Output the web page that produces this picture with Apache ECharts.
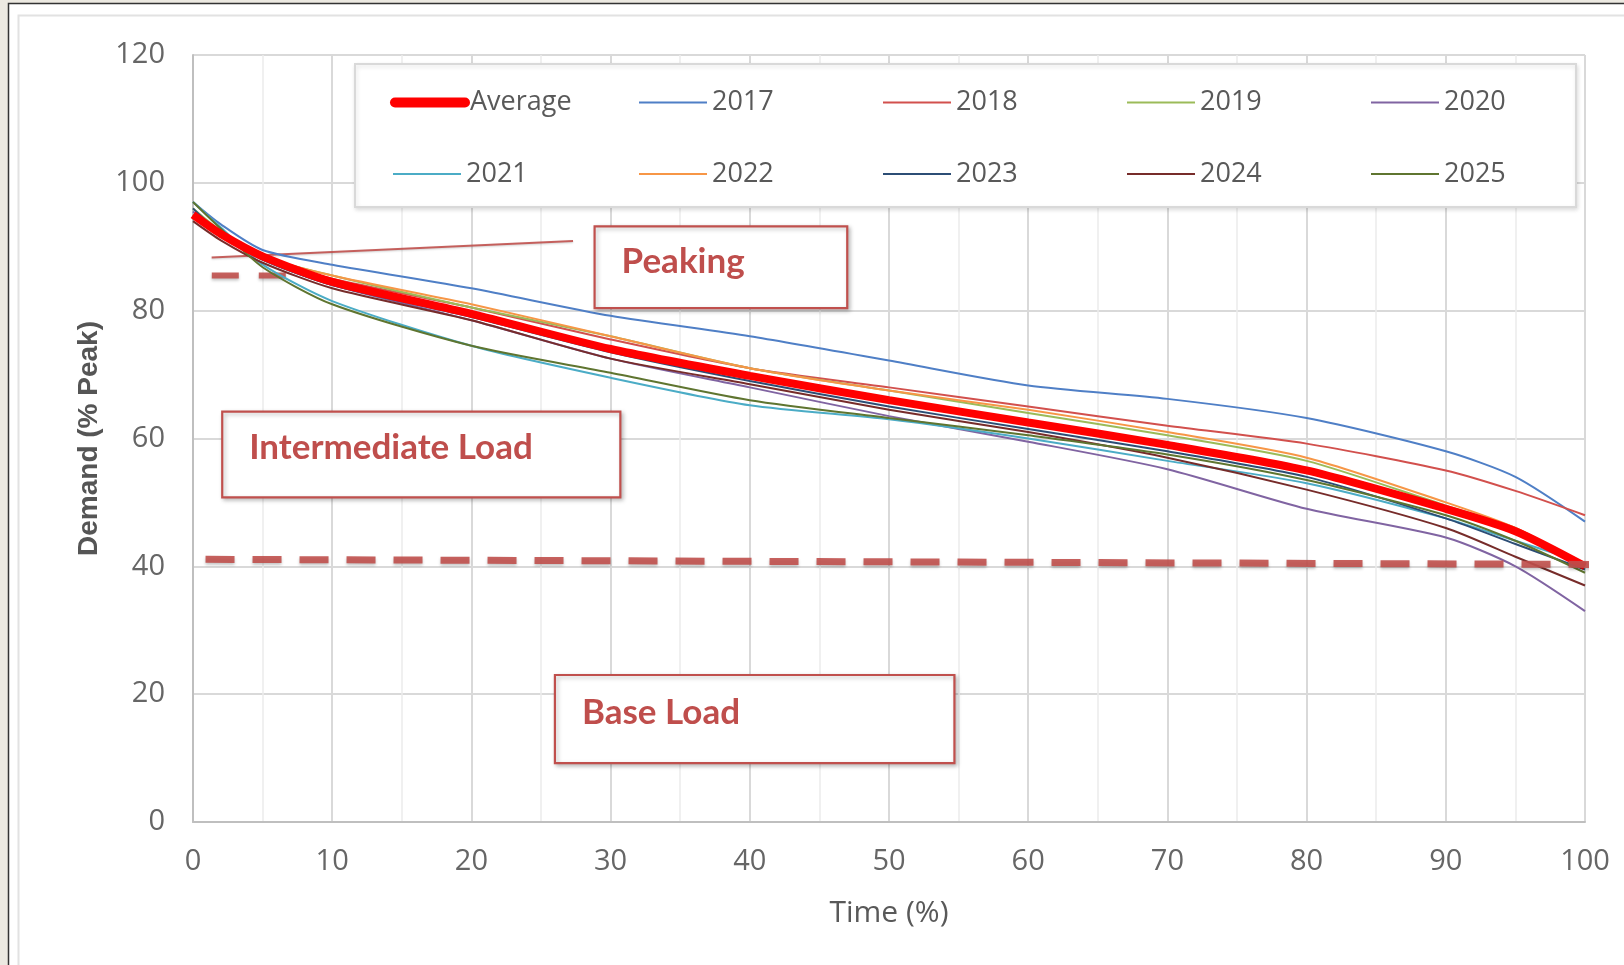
<!DOCTYPE html>
<html>
<head>
<meta charset="utf-8">
<script src="https://cdn.jsdelivr.net/npm/echarts@6/dist/echarts.min.js"></script>
<style>
html,body{margin:0;padding:0;background:#fff;}
#chart{width:1624px;height:965px;}
</style>
</head>
<body>
<div id="chart"></div>
<script>
// ---- data ----
const timePct = [0, 2, 5, 10, 20, 30, 40, 50, 60, 70, 80, 90, 95, 100];
const seriesNames = ['Average', '2017', '2018', '2019', '2020', '2021', '2022', '2023', '2024', '2025'];
const avgVals  = [95, 92, 88.5, 84.5, 79.5, 74, 69.8, 66, 62.5, 59, 55, 49, 45.5, 40];
const y2017 = [97, 93.5, 89.5, 87.2, 83.5, 79.2, 76, 72.2, 68.3, 66.2, 63.2, 58, 54, 47];
const y2018 = [95, 92, 88, 85, 80.5, 75.5, 71, 68, 65, 62, 59.2, 55, 51.8, 48];
const y2019 = [96, 92.5, 88.5, 85.5, 80.5, 76, 71, 67.5, 64, 60.5, 56.5, 49.5, 46, 40];
const y2020 = [95.5, 92, 88, 84, 78.5, 72.5, 68, 63.5, 59.5, 55.2, 49, 44.5, 40, 33];
const y2021 = [97, 93, 87.2, 81.5, 74.5, 69.5, 65.2, 63, 60, 56.5, 53, 47.5, 44, 40.5];
const y2022 = [95, 92, 88.5, 85.5, 81, 76, 71, 67.5, 64.5, 61, 57, 50, 46, 40];
const y2023 = [96, 92, 88, 84, 79, 73.5, 69, 65, 61.5, 58, 54, 47.5, 43.5, 39.5];
const y2024 = [94, 91, 87.5, 83.5, 78.5, 72.5, 68.5, 64.5, 61, 57, 52, 46, 41.5, 37];
const y2025 = [97, 92.8, 86.8, 81, 74.5, 70.3, 66, 63.2, 60.5, 57.5, 53.5, 48, 44, 39];
const allVals = [avgVals, y2017, y2018, y2019, y2020, y2021, y2022, y2023, y2024, y2025];
const colors = ['#FF0000', '#4F7FC6', '#D2504D', '#9BBB59', '#8064A2', '#4BACC6', '#F79646', '#2C4D75', '#772C2A', '#5F7530'];
const yTicks = [0, 20, 40, 60, 80, 100, 120];
const xTicks = [0, 10, 20, 30, 40, 50, 60, 70, 80, 90, 100];

// annotation lines (data coordinates)
const baseDashX = [0.9, 100.4];
const baseDashY = [41.1, 40.3];
const peakDashX = [1.35, 6.8];
const peakDashY = [85.5, 85.5];
const peakLeaderX = [1.34, 27.3];
const peakLeaderY = [88.3, 90.9];

// annotation boxes (data coordinates)
const boxLabels = ['Peaking', 'Intermediate Load', 'Base Load'];
const boxX0 = [28.85, 2.1, 26.0];
const boxX1 = [47.0, 30.7, 54.7];
const boxYTop = [93.2, 64.2, 23.0];
const boxYBot = [80.4, 50.8, 9.2];

const FONT = '"Open Sans", "Liberation Sans", sans-serif';
const chart = echarts.init(document.getElementById('chart'), null, {renderer: 'canvas'});

const lineSeries = seriesNames.map((name, i) => ({
  name: name,
  type: 'line',
  smooth: 0.25,
  symbol: 'none',
  z: i === 0 ? 3 : 2,
  lineStyle: {color: colors[i], width: i === 0 ? 8 : 2},
  itemStyle: {color: colors[i]},
  data: timePct.map((t, k) => [t, allVals[i][k]])
}));
const avgSeries = lineSeries.shift();
lineSeries.push(avgSeries);

const annotSeries = [
  {
    name: 'peakDash', type: 'line', symbol: 'none', silent: true, clip: false, z: 1,
    lineStyle: {color: '#C0504D', width: 6, type: [27, 20], opacity: 0.9,
      shadowColor: 'rgba(0,0,0,0.25)', shadowBlur: 3, shadowOffsetY: 2},
    data: peakDashX.map((x, k) => [x, peakDashY[k]])
  },
  {
    name: 'peakLeader', type: 'line', symbol: 'none', silent: true, clip: false, z: 1,
    lineStyle: {color: '#C0504D', width: 2, opacity: 0.9,
      shadowColor: 'rgba(0,0,0,0.2)', shadowBlur: 2, shadowOffsetY: 1},
    data: peakLeaderX.map((x, k) => [x, peakLeaderY[k]])
  },
  {
    name: 'baseDash', type: 'line', symbol: 'none', silent: true, clip: false, z: 4,
    lineStyle: {color: '#C0504D', width: 7, type: [29, 18], opacity: 0.9,
      shadowColor: 'rgba(0,0,0,0.25)', shadowBlur: 3, shadowOffsetY: 2},
    data: baseDashX.map((x, k) => [x, baseDashY[k]])
  }
];

// legends: 2 rows x 5 columns
const colLeft = [392, 638, 882, 1126, 1370];
const rowCenter = [102.5, 174];
const legends = seriesNames.map((name, i) => ({
  data: [name],
  left: colLeft[i % 5] + (i === 0 ? -2 : 0),
  top: rowCenter[Math.floor(i / 5)] - 15,
  padding: 0,
  itemWidth: i === 0 ? 70 : 68,
  itemHeight: 14,
  z: 20,
  selectedMode: false,
  itemStyle: {opacity: 0, borderWidth: 0},
  lineStyle: i === 0 ? {width: 10, cap: 'round'} : {width: 2},
  textStyle: {color: '#595959', fontSize: 27, fontFamily: FONT, lineHeight: 30}
}));

chart.setOption({
  backgroundColor: '#ffffff',
  animation: false,
  color: colors,
  legend: legends,
  grid: {left: 193, right: 39, top: 55, bottom: 143, containLabel: false},
  xAxis: {
    type: 'value', min: 0, max: 100, interval: 10,
    name: 'Time (%)', nameLocation: 'middle', nameGap: 76,
    nameTextStyle: {color: '#595959', fontSize: 30, fontFamily: FONT},
    axisLine: {show: true, lineStyle: {color: '#bfbfbf', width: 2}},
    axisTick: {show: false},
    axisLabel: {color: '#666', fontSize: 29, fontFamily: FONT, margin: 25,
      formatter: v => (xTicks.indexOf(v) >= 0 ? String(v) : '')},
    splitLine: {show: true, lineStyle: {color: '#d9d9d9', width: 2}},
    minorTick: {show: false, splitNumber: 2},
    minorSplitLine: {show: true, lineStyle: {color: '#ececec', width: 1.5}}
  },
  yAxis: {
    type: 'value', min: 0, max: 120, interval: 20,
    name: 'Demand (% Peak)', nameLocation: 'middle', nameGap: 90, nameRotate: 90,
    nameTextStyle: {color: '#555', fontSize: 28, fontWeight: 'bold', fontFamily: '"Liberation Sans", Arial, sans-serif'},
    axisLine: {show: true, lineStyle: {color: '#bfbfbf', width: 2}},
    axisTick: {show: false},
    axisLabel: {color: '#666', fontSize: 29, fontFamily: FONT, margin: 28,
      formatter: v => (yTicks.indexOf(v) >= 0 ? String(v) : '')},
    splitLine: {show: true, lineStyle: {color: '#d9d9d9', width: 2}}
  },
  series: annotSeries.slice(0, 2).concat(lineSeries, annotSeries.slice(2))
});

// graphics: frame, legend box, annotation boxes
const g = [];
g.push({type: 'rect', z: -10, silent: true, shape: {x: 0, y: 0, width: 1624, height: 965}, style: {fill: '#ECE9E1'}});
g.push({type: 'rect', z: -9, silent: true, shape: {x: 8.5, y: 3.5, width: 1640, height: 980}, style: {fill: '#ffffff', stroke: '#333', lineWidth: 1.5}});
g.push({type: 'rect', z: -8, silent: true, shape: {x: 18.5, y: 15.5, width: 1640, height: 980}, style: {fill: 'none', stroke: '#e2e2e2', lineWidth: 2}});
g.push({type: 'rect', z: 5, silent: true, shape: {x: 355, y: 64, width: 1221, height: 143},
  style: {fill: '#ffffff', stroke: '#d9d9d9', lineWidth: 2, shadowColor: 'rgba(0,0,0,0.12)', shadowBlur: 4, shadowOffsetX: 1, shadowOffsetY: 2}});
const textOffX = [27, 27, 27];
const textOffY = [-5, -7, -6];
boxLabels.forEach((lab, i) => {
  const p0 = chart.convertToPixel('grid', [boxX0[i], boxYTop[i]]);
  const p1 = chart.convertToPixel('grid', [boxX1[i], boxYBot[i]]);
  g.push({type: 'rect', z: 30, silent: true,
    shape: {x: p0[0], y: p0[1], width: p1[0] - p0[0], height: p1[1] - p0[1]},
    style: {fill: '#ffffff', stroke: '#C0504D', lineWidth: 2.2, shadowColor: 'rgba(0,0,0,0.25)', shadowBlur: 4, shadowOffsetX: 2, shadowOffsetY: 2}});
  g.push({type: 'text', z: 31, silent: true,
    x: p0[0] + textOffX[i], y: (p0[1] + p1[1]) / 2 + textOffY[i],
    style: {text: lab, fill: '#BF4E4C', font: 'bold 35px Lato, "Open Sans", sans-serif', textVerticalAlign: 'middle', textAlign: 'left'}});
});
chart.setOption({graphic: g});
</script>
</body>
</html>
